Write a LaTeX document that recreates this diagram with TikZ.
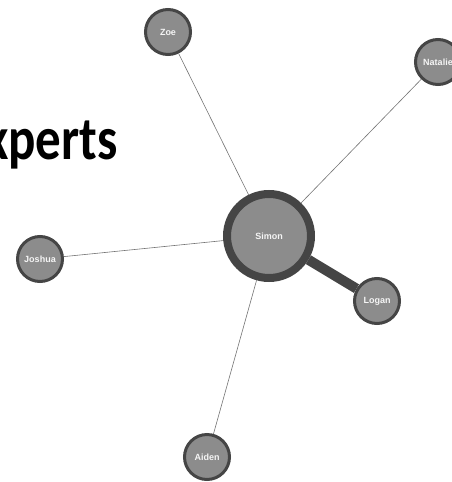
\documentclass[tikz,border=0pt]{standalone}
\usepackage{fontspec}
\setsansfont{Liberation Sans}
\newfontfamily\headfont{Carlito}
\begin{document}
\begin{tikzpicture}[x=1pt, y=-1pt,
	every node/.style = {shape=circle, draw=black!73, fill=black!45, text=black!4, inner sep=0pt, align=center, font=\sffamily\bfseries\fontsize{9}{10}\selectfont},
	person/.style = {minimum size=45pt, line width=3pt},
	hub/.style = {minimum size=84pt, line width=8pt},
	link/.style = {black!55, line width=0.6pt},
	strong link/.style = {black!73, line width=10pt}]
	
	\useasboundingbox (0,0) rectangle (452,482);
	\clip (0,0) rectangle (452,482);
	\node[shape=rectangle, draw=none, fill=none, text=black, anchor=base east, font=\headfont\bfseries\fontsize{51}{51}\selectfont] (title) at (118,159) {\scalebox{1}[1.2]{Experts}};
	
	\node[hub] (simon) at (269,236) {Simon};
	\node[person] (zoe) at (168,32) {Zoe};
	\node[person] (natalie) at (438,62) {Natalie};
	\node[person] (joshua) at (40,259) {Joshua};
	\node[person] (logan) at (377,301) {Logan};
	\node[person] (aiden) at (207,457) {Aiden};
	
	\draw[link] (simon) -- (zoe);
	\draw[link] (simon) -- (natalie);
	\draw[link] (simon) -- (joshua);
	\draw[link] (simon) -- (aiden);
	\draw[strong link] (simon) -- (logan);
\end{tikzpicture}
\end{document}
